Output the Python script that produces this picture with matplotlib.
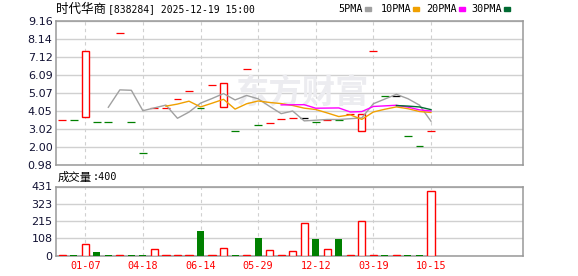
import numpy as np
import pandas as pd
import matplotlib
matplotlib.use('Agg')
import matplotlib.pyplot as plt
from matplotlib.patches import Rectangle

# values, one entry per trading day
opens = [3.52, 3.52, 3.69, 3.40, 3.40, 8.46, 3.40, 1.66, 4.20, 4.20,
         4.71, 5.16, 4.20, 5.51, 4.26, 2.89, 6.43, 3.25, 3.35, 3.57,
         3.63, 3.63, 3.44, 3.56, 3.56, 3.86, 2.93, 7.46, 4.90, 4.90,
         2.61, 2.04, 2.89]
closes = [3.52, 3.52, 7.46, 3.40, 3.40, 8.46, 3.40, 1.66, 4.20, 4.20,
          4.71, 5.16, 4.20, 5.51, 5.62, 2.89, 6.43, 3.25, 3.35, 3.57,
          3.63, 3.63, 3.44, 3.56, 3.56, 3.86, 3.86, 7.46, 4.90, 4.90,
          2.61, 2.04, 2.89]
# 1 = up (red), -1 = down (green), 0 = unchanged (black)
direction = [1, -1, 1, -1, -1, 1, -1, -1, 1, 1,
             1, 1, -1, 1, 1, -1, 1, -1, 1, 1,
             1, 0, -1, 1, -1, 1, 1, 1, -1, 0,
             -1, -1, 1]
volume = [4, 4, 70, 22, 4, 4, 4, 4, 41, 4,
          4, 4, 156, 4, 47, 4, 4, 112, 35, 4,
          27, 200, 104, 41, 104, 4, 216, 4, 4, 4,
          4, 4, 400]

date_pos = [2, 7, 12, 17, 22, 27, 32]
date_labels = ['01-07', '04-18', '06-14', '05-29', '12-12', '03-19', '10-15']
price_labels = ['0.98', '2.00', '3.02', '4.05', '5.07', '6.09', '7.12', '8.14', '9.16']
vol_ticks = [0, 108, 215, 323, 431]

ma_windows = [5, 10, 20, 30]
ma_names = ['5PMA', '10PMA', '20PMA', '30PMA']
ma_colors = ['#a0a0a0', '#f0a000', '#ff00ff', '#006a32']

up_color = '#ff0000'
down_color = '#008000'
colors = {1: up_color, -1: down_color, 0: '#000000'}
frame_color = '#999999'
grid_color = '#d0d0d0'
tick_color = '#111133'

W, H = 578, 276
fig = plt.figure(figsize=(W / 100, H / 100), dpi=100)

def box(left, top, right, bottom):
    return [left / W, 1 - bottom / H, (right - left) / W, (bottom - top) / H]

ax = fig.add_axes(box(56, 21, 522.7, 165))
axv = fig.add_axes(box(56, 186.5, 522.7, 255.5))

n = len(closes)
xs = np.arange(n)

for a in (ax, axv):
    a.set_xlim(-0.54, 39.96)
    for s in a.spines.values():
        s.set_color(frame_color)
        s.set_linewidth(1.1)
    a.tick_params(length=0, labelsize=8, colors=tick_color, pad=2.5)
    a.set_axisbelow(True)
    for p in date_pos:
        a.axvline(p, color=grid_color, lw=0.8, ls=(0, (3, 3)), zorder=0.5)

# price panel
price_ticks = np.linspace(0.98, 9.16, len(price_labels))
ax.set_ylim(0.98, 9.16)
ax.set_yticks(price_ticks)
ax.set_yticklabels(price_labels)
ax.yaxis.grid(True, color=grid_color, lw=1.0)
ax.set_xticks([])

ax.text(0.527, 0.49, '东方财富', transform=ax.transAxes, ha='center', va='center',
        fontsize=24, fontweight='bold', color='#ececf0', family='Noto Sans CJK SC', zorder=0.6)

for i in range(n):
    c = colors[direction[i]]
    if opens[i] == closes[i]:
        ax.hlines(closes[i], i - 0.34, i + 0.34, color=c, lw=0.9, zorder=3)
    else:
        lo = min(opens[i], closes[i])
        face = 'white' if closes[i] > opens[i] else c
        ax.bar(i, abs(closes[i] - opens[i]), bottom=lo, width=0.62,
               facecolor=face, edgecolor=c, lw=1.0, zorder=3)

close_series = pd.Series(closes)
for w, col in zip(ma_windows, ma_colors):
    ma = close_series.rolling(w).mean()
    ax.plot(xs, ma, color=col, lw=1.0, zorder=4)

# volume panel
axv.set_ylim(0, 431)
axv.set_yticks(vol_ticks)
axv.set_yticklabels([str(v) for v in vol_ticks])
axv.yaxis.grid(True, color=grid_color, lw=1.0)
axv.set_xticks(date_pos)
axv.set_xticklabels(date_labels, family='DejaVu Sans Mono', fontsize=7.3, color=up_color)
axv.tick_params(axis='x', pad=4)

for i in range(n):
    if direction[i] < 0:
        axv.bar(i, volume[i], width=0.62, color=down_color, lw=0, zorder=3)
    else:
        axv.bar(i, volume[i], width=0.62, facecolor='white', edgecolor=up_color, lw=1.0, zorder=3)

# header texts
fig.text(56 / W, 1 - 9.5 / H, '时代华商', family='Noto Sans CJK SC', fontsize=9,
         va='center', ha='left', color='#000000')
fig.text(107.5 / W, 1 - 9.5 / H, '[838284] 2025-12-19 15:00', family='DejaVu Sans Mono',
         fontsize=7.0, va='center', ha='left', color='#000000')

legend_x = [338.3, 380.3, 425.7, 471.7]
marker_x = [365, 412.7, 459, 504.3]
for name, col, tx, mx in zip(ma_names, ma_colors, legend_x, marker_x):
    fig.text(tx / W, 1 - 9.5 / H, name, family='DejaVu Sans Mono', fontsize=7.3,
             va='center', ha='left', color='#000000')
    fig.patches.append(Rectangle((mx / W, 1 - 10.5 / H), 6 / W, 3 / H,
                                 transform=fig.transFigure, color=col))

fig.text(58 / W, 1 - 177.5 / H, '成交量', family='Noto Sans CJK SC', fontsize=8.2,
         va='center', ha='left', color='#000000')
fig.text(93 / W, 1 - 177.5 / H, ':400', family='DejaVu Sans Mono', fontsize=7.3,
         va='center', ha='left', color='#000000')

fig.savefig('out.png', dpi=100, facecolor='white')
